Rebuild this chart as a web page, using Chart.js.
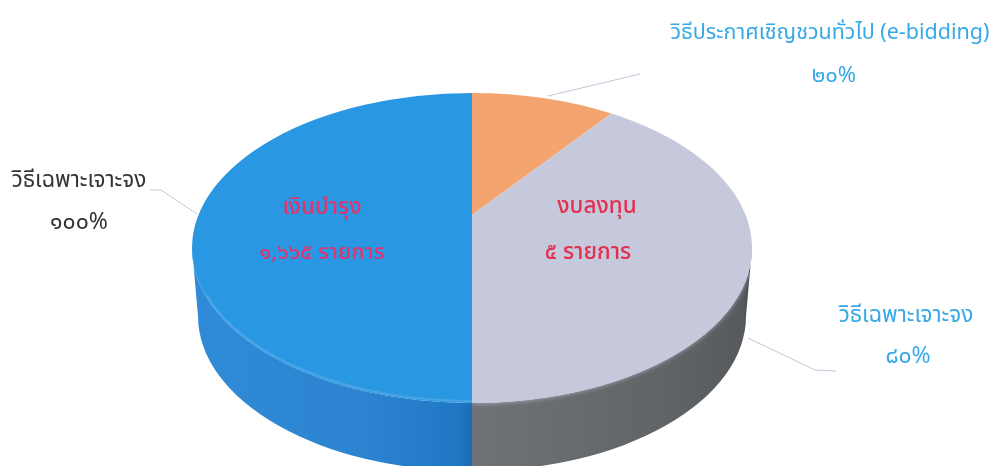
<!DOCTYPE html>
<html lang="th">
<head>
<meta charset="utf-8">
<title>Pie</title>
<script src="https://cdn.jsdelivr.net/npm/chart.js@4"></script>
<style>
  html,body{margin:0;padding:0;background:#fff;overflow:hidden}
  canvas{display:block}
</style>
</head>
<body>
<canvas id="c-pie" width="992" height="466"></canvas>
<script>
// slices, clockwise from the top
const sliceNames = ['วิธีประกาศเชิญชวนทั่วไป (e-bidding)', 'งบลงทุน', 'เงินบำรุง'];
const sliceValues = [8.3, 41.7, 50];
const sliceColors = ['#f4a46e', '#c6c8dc', '#2a97e2'];

const FONT = '"Noto Sans Thai","Noto Sans","DejaVu Sans",sans-serif';
const TILT = 155 / 280;   // squash of the top face
const DEPTH = 68;         // height of the side wall
const APEX_UP = 33;       // slices meet above the middle of the ellipse

// side wall gradient stops, left to right
const sideStops = [
  null,
  [[.5, '#6f7376'], [.85, '#606467'], [.985, '#565a5d'], [1, '#3a3e41']],
  [[0, '#2f8bd8'], [.3, '#2d84d0'], [.47, '#2078c4'], [.5, '#1a6db6']]
];

// text: [string, x, y, size, colour, weight]
const textRows = [
  ['วิธีประกาศเชิญชวนทั่วไป (e-bidding)', 830, 35, 21.5, '#36a9e6', 400],
  ['๒๐%', 834, 78, 22, '#36a9e6', 400],
  ['วิธีเฉพาะเจาะจง', 79, 182, 22.5, '#333333', 400],
  ['๑๐๐%', 79, 224, 23, '#333333', 400],
  ['วิธีเฉพาะเจาะจง', 906, 317, 22.5, '#36a9e6', 400],
  ['๘๐%', 908, 358, 23, '#36a9e6', 400],
  ['เงินบำรุง', 322, 209, 22.5, '#e0356e', 500],
  ['๑,๖๖๕ รายการ', 322, 255, 22, '#e0356e', 500],
  ['งบลงทุน', 597, 208, 22.5, '#e3304f', 500],
  ['๕ รายการ', 588, 254, 22.5, '#e3304f', 500]
];

// leader lines, as polylines
const leaders = [
  [[150, 190], [161, 190], [197, 214]],
  [[548, 96], [640, 74]],
  [[748, 338], [815, 370], [836, 371]]
];

const pie3d = {
  id: 'pie3d',
  // the library lays the arcs out, this plugin only projects them
  beforeDatasetDraw() { return false; },
  afterDatasetsDraw(chart) {
    const ctx = chart.ctx;
    const arcs = chart.getDatasetMeta(0).data;
    const cx = arcs[0].x, cy = arcs[0].y;
    const rx = arcs[0].outerRadius, ry = rx * TILT;

    const facePath = a => {
      ctx.beginPath();
      ctx.moveTo(cx, cy - APEX_UP);
      ctx.ellipse(cx, cy, rx, ry, 0, a.startAngle, a.endAngle);
      ctx.closePath();
    };

    // side wall, front half only
    arcs.forEach((a, i) => {
      if (!sideStops[i]) return;
      const from = Math.max(a.startAngle, 0), to = Math.min(a.endAngle, Math.PI);
      if (to <= from) return;
      const g = ctx.createLinearGradient(cx - rx, 0, cx + rx, 0);
      sideStops[i].forEach(s => g.addColorStop(s[0], s[1]));
      ctx.beginPath();
      ctx.ellipse(cx, cy, rx, ry, 0, from, to);
      ctx.ellipse(cx, cy + DEPTH, rx - 6, ry, 0, to, from, true);
      ctx.closePath();
      ctx.fillStyle = g;
      ctx.fill();
    });

    // soft edge of the grey face, over the wall only
    ctx.save();
    ctx.beginPath();
    ctx.rect(cx, cy + 25, rx, ry + DEPTH);
    ctx.clip();
    ctx.shadowColor = 'rgba(198,200,220,.8)';
    ctx.shadowBlur = 5;
    facePath(arcs[1]);
    ctx.fillStyle = sliceColors[1];
    ctx.fill();
    ctx.restore();

    // top face
    arcs.forEach((a, i) => {
      facePath(a);
      ctx.fillStyle = sliceColors[i];
      ctx.fill();
    });

    // soft highlight on the blue rim
    ctx.beginPath();
    ctx.ellipse(cx, cy, rx - 1, ry - 2, 0, Math.PI / 2, Math.PI * 0.9);
    ctx.strokeStyle = 'rgba(90,175,235,.6)';
    ctx.lineWidth = 2;
    ctx.stroke();

    // leader lines
    ctx.strokeStyle = '#c3c6da';
    ctx.lineWidth = 1;
    leaders.forEach(pts => {
      ctx.beginPath();
      pts.forEach((p, i) => i ? ctx.lineTo(p[0], p[1]) : ctx.moveTo(p[0], p[1]));
      ctx.stroke();
    });

    // labels
    ctx.textAlign = 'center';
    ctx.textBaseline = 'middle';
    textRows.forEach(r => {
      ctx.font = r[5] + ' ' + r[3] + 'px ' + FONT;
      ctx.fillStyle = r[4];
      ctx.fillText(r[0], r[1], r[2]);
    });
  }
};

new Chart(document.getElementById('c-pie'), {
  type: 'pie',
  data: {
    labels: sliceNames,
    datasets: [{ data: sliceValues, backgroundColor: sliceColors, borderWidth: 0 }]
  },
  options: {
    responsive: false,
    animation: false,
    radius: 280,
    layout: { padding: { right: 48, top: 30 } },
    plugins: { legend: { display: false }, tooltip: { enabled: false } }
  },
  plugins: [pie3d]
});
</script>
</body>
</html>
